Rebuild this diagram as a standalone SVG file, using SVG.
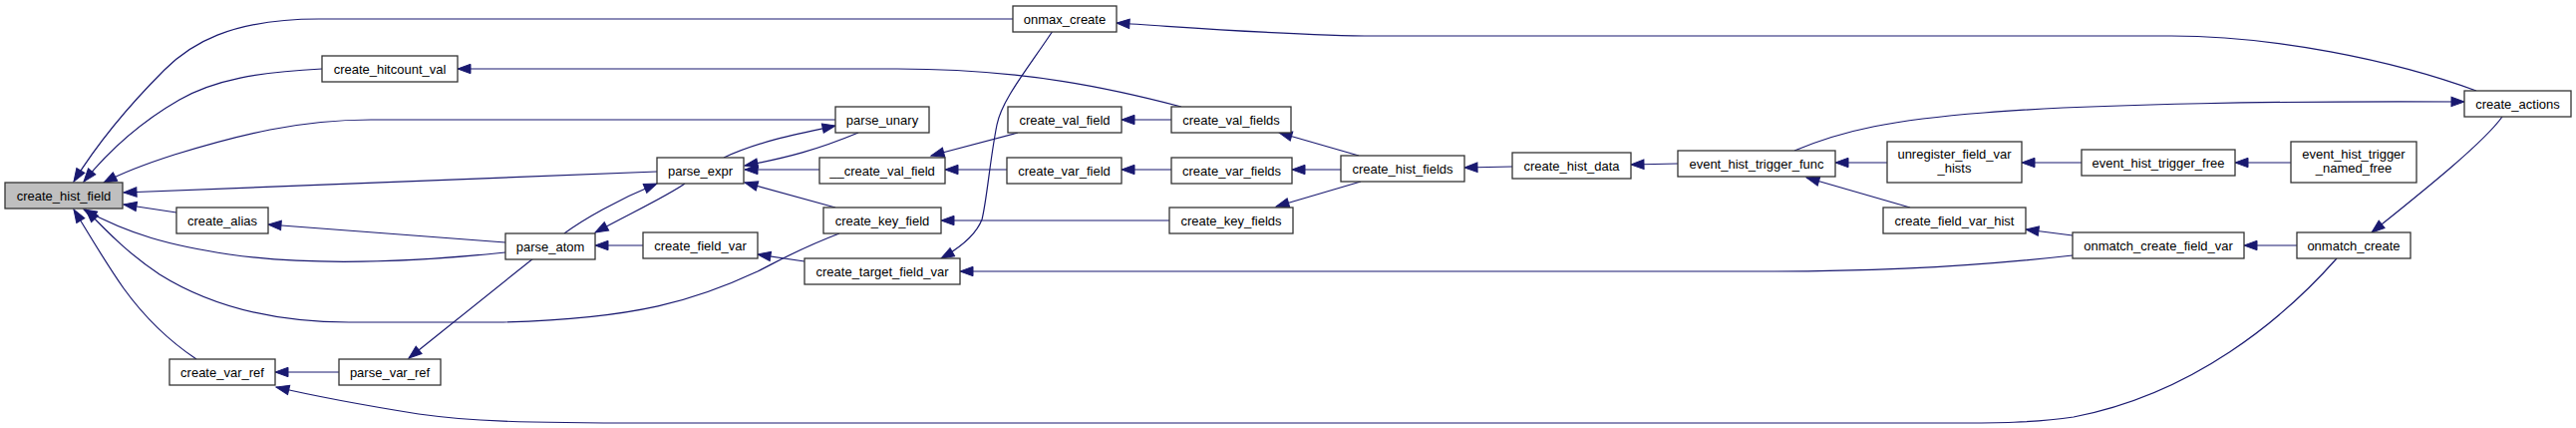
<svg xmlns="http://www.w3.org/2000/svg" width="2584" height="429" viewBox="0 0 2584 429">
<style>
.n rect{fill:#fff;stroke:#333;stroke-width:1.3}
.n text{font-family:"Liberation Sans",Arial,sans-serif;font-size:13px;fill:#000;text-anchor:middle}
.root rect{fill:#bfbfbf}
.e path{fill:none;stroke:#191970;stroke-width:1.2;marker-end:url(#ah)}
</style>
<defs>
<marker id="ah" markerUnits="userSpaceOnUse" markerWidth="15" markerHeight="11" refX="13" refY="4.7" orient="auto" overflow="visible">
<path d="M0,0 L13,4.7 L0,9.4 Z" fill="#191970" stroke="#191970" stroke-width="1"/>
</marker>
</defs>
<rect width="2584" height="429" fill="#fff"/>
<g id="edges" class="e">
<path d="M1016,19 L320,19 C230,19 190,45 165,70 C130,105 100,140 74,182"/>
<path d="M323,69 C260,72 215,80 180,100 C140,123 110,150 84,182"/>
<path d="M838,120 L372,120 C300,120 240,135 175,155 C150,163 125,172 104,183"/>
<path d="M659,172 L124,193"/>
<path d="M177,213 L124,205"/>
<path d="M507,253 C420,262 320,268 230,255 C170,246 130,235 84,210"/>
<path d="M842,234 C800,250 780,262 760,272 C700,300 640,320 500,323 L350,323 C260,323 200,300 160,275 C130,255 110,235 86,210"/>
<path d="M197,360 C170,342 145,318 124,289 C105,262 90,236 74,210"/>
<path d="M566,234 C585,220 620,200 659,184"/>
<path d="M687,184 C670,196 640,210 597,233"/>
<path d="M726,158 C760,142 800,134 838,126"/>
<path d="M861,133 C820,150 790,158 747,166"/>
<path d="M822,170 L747,170"/>
<path d="M838,208 L747,183"/>
<path d="M1021,133 L934,156"/>
<path d="M1010,170 L948,170"/>
<path d="M1175,120 L1125,120"/>
<path d="M1175,170 L1125,170"/>
<path d="M1173,221 L944,221"/>
<path d="M645,246 L597,246"/>
<path d="M807,262 L760,255"/>
<path d="M1056,31 C1030,70 1005,100 1000,125 C993,160 990,200 985,220 C978,238 960,250 944,259"/>
<path d="M1185,107 C1120,90 1030,69 900,69 L459,69"/>
<path d="M507,243 L269,225"/>
<path d="M535,259 L410,359"/>
<path d="M340,373 L276,373"/>
<path d="M2344,259 C2290,320 2200,395 2080,418 C2040,424 2000,424 1960,424 L650,424 C520,424 470,422 420,415 C370,407 320,398 277,388"/>
<path d="M2079,256 C2000,265 1900,272 1780,272 L963,272"/>
<path d="M2484,91 C2400,60 2280,36 2178,36 L1379,36 C1300,36 1200,28 1120,23"/>
<path d="M1800,151 C1850,130 1900,120 1990,113 C2100,104 2300,101 2472,102"/>
<path d="M2510,117 C2490,145 2420,200 2379,233"/>
<path d="M2304,246 L2251,246"/>
<path d="M2079,236 L2032,230"/>
<path d="M1916,208 L1812,178"/>
<path d="M1893,163 L1841,163"/>
<path d="M2088,163 L2028,163"/>
<path d="M2298,163 L2242,163"/>
<path d="M1683,164 L1636,165"/>
<path d="M1517,167 L1469,168"/>
<path d="M1363,156 L1283,133"/>
<path d="M1345,170 L1296,170"/>
<path d="M1365,182 L1280,207"/>
</g>
<g id="create_hist_field" class="n root"><rect x="5" y="183" width="118" height="26"/><text x="64" y="200.5">create_hist_field</text></g>
<g id="create_hitcount_val" class="n"><rect x="323" y="56" width="136" height="26"/><text x="391" y="73.5">create_hitcount_val</text></g>
<g id="create_alias" class="n"><rect x="177" y="208" width="92" height="26"/><text x="223" y="225.5">create_alias</text></g>
<g id="parse_atom" class="n"><rect x="507" y="234" width="90" height="26"/><text x="552" y="251.5">parse_atom</text></g>
<g id="create_var_ref" class="n"><rect x="170" y="360" width="106" height="26"/><text x="223" y="377.5">create_var_ref</text></g>
<g id="parse_var_ref" class="n"><rect x="340" y="360" width="102" height="26"/><text x="391" y="377.5">parse_var_ref</text></g>
<g id="onmax_create" class="n"><rect x="1016" y="6" width="104" height="26"/><text x="1068" y="23.5">onmax_create</text></g>
<g id="parse_unary" class="n"><rect x="838" y="107" width="94" height="26"/><text x="885" y="124.5">parse_unary</text></g>
<g id="parse_expr" class="n"><rect x="659" y="158" width="87" height="26"/><text x="702.5" y="175.5">parse_expr</text></g>
<g id="__create_val_field" class="n"><rect x="822" y="158" width="126" height="26"/><text x="885" y="175.5">__create_val_field</text></g>
<g id="create_key_field" class="n"><rect x="826" y="208" width="118" height="26"/><text x="885" y="225.5">create_key_field</text></g>
<g id="create_field_var" class="n"><rect x="645" y="233" width="115" height="26"/><text x="702.5" y="250.5">create_field_var</text></g>
<g id="create_target_field_var" class="n"><rect x="807" y="259" width="156" height="26"/><text x="885" y="276.5">create_target_field_var</text></g>
<g id="create_val_field" class="n"><rect x="1011" y="107" width="114" height="26"/><text x="1068" y="124.5">create_val_field</text></g>
<g id="create_var_field" class="n"><rect x="1010" y="158" width="115" height="26"/><text x="1067.5" y="175.5">create_var_field</text></g>
<g id="create_val_fields" class="n"><rect x="1175" y="107" width="120" height="26"/><text x="1235" y="124.5">create_val_fields</text></g>
<g id="create_var_fields" class="n"><rect x="1175" y="158" width="121" height="26"/><text x="1235.5" y="175.5">create_var_fields</text></g>
<g id="create_key_fields" class="n"><rect x="1173" y="208" width="124" height="26"/><text x="1235" y="225.5">create_key_fields</text></g>
<g id="create_hist_fields" class="n"><rect x="1345" y="156" width="124" height="26"/><text x="1407" y="173.5">create_hist_fields</text></g>
<g id="create_hist_data" class="n"><rect x="1517" y="153" width="119" height="26"/><text x="1576.5" y="170.5">create_hist_data</text></g>
<g id="event_hist_trigger_func" class="n"><rect x="1683" y="151" width="158" height="26"/><text x="1762" y="168.5">event_hist_trigger_func</text></g>
<g id="unregister_field_var_hists" class="n"><rect x="1893" y="142" width="135" height="41"/><text x="1960.5" y="159">unregister_field_var</text><text x="1960.5" y="173">_hists</text></g>
<g id="event_hist_trigger_free" class="n"><rect x="2088" y="150" width="154" height="26"/><text x="2165" y="167.5">event_hist_trigger_free</text></g>
<g id="event_hist_trigger_named_free" class="n"><rect x="2298" y="142" width="126" height="41"/><text x="2361" y="159">event_hist_trigger</text><text x="2361" y="173">_named_free</text></g>
<g id="create_actions" class="n"><rect x="2472" y="91" width="107" height="26"/><text x="2525.5" y="108.5">create_actions</text></g>
<g id="create_field_var_hist" class="n"><rect x="1889" y="208" width="143" height="26"/><text x="1960.5" y="225.5">create_field_var_hist</text></g>
<g id="onmatch_create_field_var" class="n"><rect x="2079" y="233" width="172" height="26"/><text x="2165" y="250.5">onmatch_create_field_var</text></g>
<g id="onmatch_create" class="n"><rect x="2304" y="233" width="114" height="26"/><text x="2361" y="250.5">onmatch_create</text></g>
</svg>
